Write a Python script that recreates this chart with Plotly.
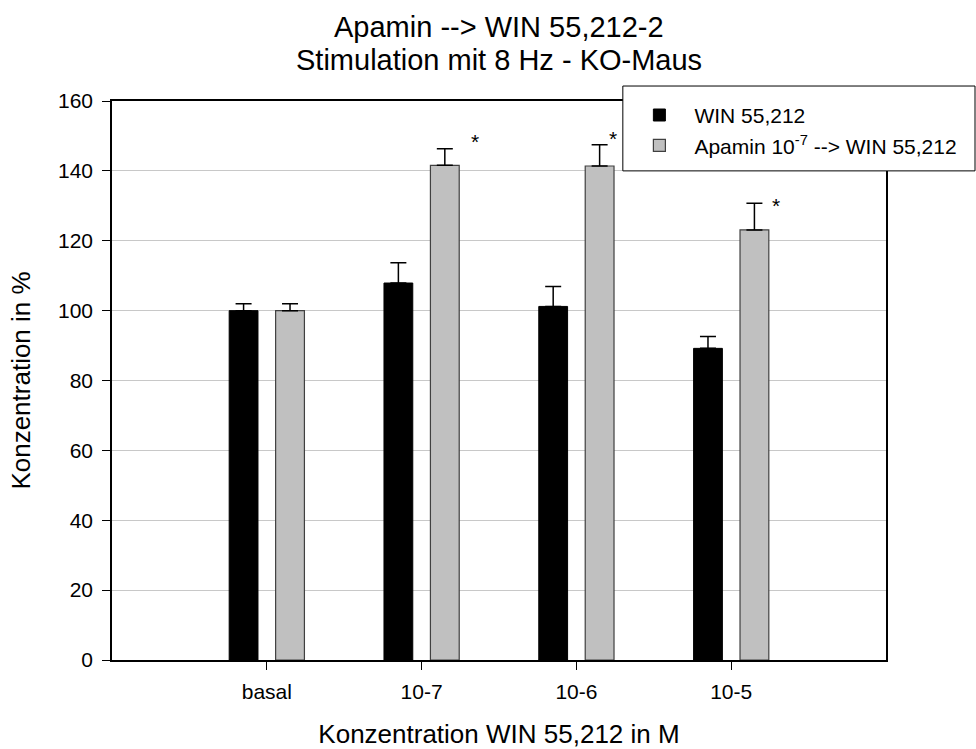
import plotly.graph_objects as go

categories = ["basal", "10-7", "10-6", "10-5"]
win_values = [100.0, 107.9, 101.2, 89.2]
win_errors = [2.0, 5.8, 5.7, 3.4]
apamin_values = [100.0, 141.6, 141.4, 123.1]
apamin_errors = [2.0, 4.7, 6.1, 7.6]
sig_categories = ["10-7", "10-6", "10-5"]
sig_xshift = [53, 37, 45]
sig_yshift = [7, 6, -2]

FONT = "Arial, Liberation Sans, sans-serif"

fig = go.Figure()
fig.add_trace(go.Bar(
    x=categories, y=win_values, name="WIN 55,212",
    marker=dict(color="black", line=dict(color="black", width=1)),
    error_y=dict(type="data", array=win_errors, symmetric=False, arrayminus=[0]*4,
                 color="black", thickness=1.5, width=8),
))
fig.add_trace(go.Bar(
    x=categories, y=apamin_values, name="Apamin 10<sup>-7</sup> --&gt; WIN 55,212",
    marker=dict(color="#c0c0c0", line=dict(color="#404040", width=1.2)),
    error_y=dict(type="data", array=apamin_errors, symmetric=False, arrayminus=[0]*4,
                 color="black", thickness=1.5, width=8),
))

for cat, xs, ys in zip(sig_categories, sig_xshift, sig_yshift):
    i = categories.index(cat)
    fig.add_annotation(x=cat, y=apamin_values[i] + apamin_errors[i], text="*",
                       showarrow=False, xshift=xs, yshift=ys, yanchor="middle",
                       font=dict(family=FONT, size=21, color="black"))

# two-line title
fig.add_annotation(xref="paper", yref="paper", x=0.5, y=1.0, yshift=74,
                   text="Apamin --&gt; WIN 55,212-2", showarrow=False,
                   xanchor="center", yanchor="middle",
                   font=dict(family=FONT, size=29, color="black"))
fig.add_annotation(xref="paper", yref="paper", x=0.5, y=1.0, yshift=41,
                   text="Stimulation mit 8 Hz - KO-Maus", showarrow=False,
                   xanchor="center", yanchor="middle",
                   font=dict(family=FONT, size=29, color="black"))

# legend frame
fig.add_shape(type="rect", xref="paper", yref="paper",
              x0=0.660, x1=1.115, y0=0.875, y1=1.0268,
              line=dict(color="black", width=1), fillcolor="white", layer="above")

fig.update_layout(
    width=976, height=749,
    margin=dict(l=112, r=90, t=101, b=88.5, autoexpand=False),
    paper_bgcolor="white", plot_bgcolor="white",
    barmode="group", bargap=0.4, bargroupgap=0.38,
    font=dict(family=FONT, color="black"),
    legend=dict(x=0.662, y=1.011, xanchor="left", yanchor="top",
                bgcolor="rgba(0,0,0,0)", borderwidth=0,
                font=dict(family=FONT, size=21, color="black"),
                traceorder="normal", itemwidth=60, tracegroupgap=0),
    showlegend=True,
)
fig.update_xaxes(
    type="category", range=[-1, 4], automargin=False,
    showline=True, linecolor="black", linewidth=1.5, mirror=True,
    ticks="outside", ticklen=8, tickcolor="black", showgrid=False,
    ticklabelstandoff=4,
    tickfont=dict(family=FONT, size=21, color="black"),
    title=dict(text="Konzentration WIN 55,212 in M", standoff=24,
               font=dict(family=FONT, size=26, color="black")),
)
fig.update_yaxes(
    range=[0, 160], dtick=20, automargin=False,
    showline=True, linecolor="black", linewidth=1.5, mirror=True,
    ticks="outside", ticklen=8, tickcolor="black",
    showgrid=True, gridcolor="#c8c8c8", gridwidth=1, zeroline=False,
    ticklabelstandoff=5,
    tickfont=dict(family=FONT, size=21, color="black"),
    title=dict(text="Konzentration in %", standoff=20,
               font=dict(family=FONT, size=26, color="black")),
)

fig.write_html("out.html")
